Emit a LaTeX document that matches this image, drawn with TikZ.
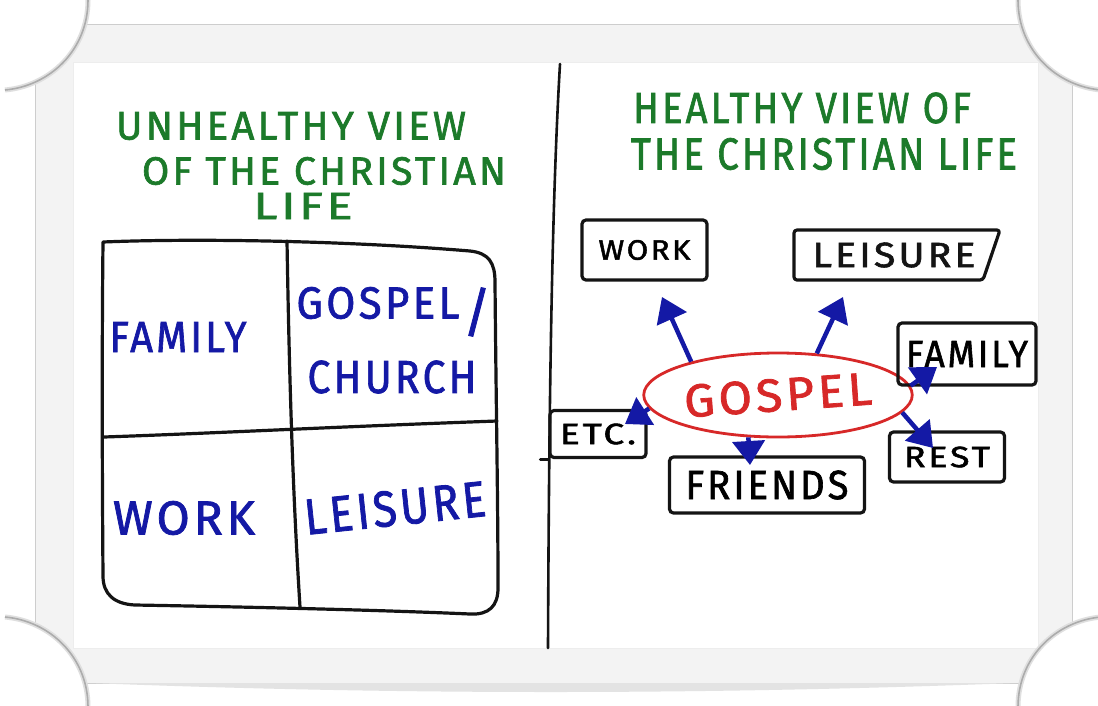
\documentclass[tikz,border=0pt]{standalone}
\usepackage{fontspec}
\usepackage{graphicx}
\usetikzlibrary{arrows.meta,shapes.geometric}
\newfontfamily\hand{Fira Sans}[LetterSpace=8, FakeBold=1.6]
\definecolor{inkgreen}{RGB}{28,122,42}
\definecolor{inkblue}{RGB}{20,25,165}
\definecolor{inkred}{RGB}{215,40,40}
\definecolor{inkblack}{RGB}{20,20,20}
\definecolor{framegray}{RGB}{243,243,243}
\definecolor{edgegray}{RGB}{205,205,205}
\newcommand{\fittext}[3]{\resizebox*{#1pt}{#2pt}{\hand #3}}
\begin{document}
\begin{tikzpicture}[x=1pt,y=-1pt,
  lbl/.style={inner sep=0pt, outer sep=0pt},
  ttl/.style={lbl, text=inkgreen},
  qtxt/.style={lbl, text=inkblue},
  bx/.style={draw=inkblack, line width=3.2pt, rounded corners=4pt, inner sep=0pt, rectangle},
  arr/.style={draw=inkblue, line width=4.5pt, -{Triangle[width=32pt,length=24pt]}},
  ink/.style={draw=inkblack, line width=3.2pt, line cap=round, line join=round},
  curlsoft/.style={draw=gray!25, line width=5pt},
  curlline/.style={draw=gray!65, line width=1.6pt},
]
\fill[white] (0,0) rectangle (1098,705);
\useasboundingbox (0,0) rectangle (1098,705);
% frame
\fill[framegray] (35,24) rectangle (1072,683);
\draw[edgegray, line width=0.8pt] (35,24) rectangle (1072,683);
% corner bites
\fill[white] (0,0) -- (0,90) -- (5,90) .. controls (50,86) and (88,50) .. (88,0) -- cycle;
\fill[white] (1098,0) -- (1098,90) -- (1101,90) .. controls (1056,86) and (1018,50) .. (1018,0) -- cycle;
\fill[white] (0,705) -- (0,617) -- (5,617) .. controls (50,621) and (88,657) .. (88,707) -- cycle;
\fill[white] (1098,705) -- (1098,617) -- (1101,617) .. controls (1056,621) and (1018,657) .. (1018,707) -- cycle;
% bottom shadow
\fill[gray!22] (90,683) .. controls (400,695) and (700,695) .. (1016,683) -- cycle;
% inner white page
\fill[white] (73,62) rectangle (1038,648);
\draw[gray!14, line width=0.6pt] (73,62) rectangle (1038,648);
% curl shadows
\foreach \s in {curlsoft,curlline}{
  \draw[\s] (5,90) .. controls (50,86) and (88,50) .. (88,0);
  \draw[\s] (1101,90) .. controls (1056,86) and (1018,50) .. (1018,0);
  \draw[\s] (5,617) .. controls (50,621) and (88,657) .. (88,707);
  \draw[\s] (1101,617) .. controls (1056,621) and (1018,657) .. (1018,707);
}
% main divider
\draw[ink, line width=2.6pt] (560,64) .. controls (552,200) and (549,400) .. (548,648);
% titles
\node[ttl] (t1) at (291,126) {\fittext{350}{28}{UNHEALTHY VIEW}};
\node[ttl] (t2) at (324,171) {\fittext{364}{28}{OF THE CHRISTIAN}};
\node[ttl] (t3) at (303,206) {\fittext{99}{26}{LIFE}};
\node[ttl] (t4) at (802,108) {\fittext{338}{31}{HEALTHY VIEW OF}};
\node[ttl] (t5) at (824,154) {\fittext{386}{32}{THE CHRISTIAN LIFE}};
% left quadrant grid
\draw[ink] (103,242) .. controls (200,238) and (350,241) .. (470,251)
  .. controls (489,253) and (495,263) .. (495,282)
  .. controls (496,400) and (498,500) .. (498,588)
  .. controls (498,606) and (489,615) .. (470,614)
  .. controls (380,610) and (250,607) .. (135,605)
  .. controls (114,604) and (103,594) .. (103,576)
  .. controls (102,450) and (102,330) .. (103,242);
\draw[ink] (287,241) .. controls (289,360) and (292,480) .. (300,607);
\draw[ink] (104,437) .. controls (220,433) and (330,427) .. (497,421);
\node[qtxt] (qf) at (178,337) {\fittext{137}{30}{FAMILY}};
\node[qtxt] (qg) at (378,303) {\fittext{163}{32}{GOSPEL}};
\node[qtxt] (qs) at (477,312) {\fittext{28}{49}{/}};
\node[qtxt] (qc) at (392,377) {\fittext{169}{33}{CHURCH}};
\node[qtxt] (qw) at (184,518) {\fittext{142}{34}{WORK}};
\node[qtxt, rotate=6] (ql) at (395,508) {\fittext{182}{36}{LEISURE}};
% right diagram
\node[ellipse, draw=inkred, line width=2.8pt, minimum width=254pt, minimum height=84pt, inner sep=0pt, text=inkred] (gos) at (778,395) {\rotatebox{4}{\fittext{188}{33}{GOSPEL}}};
\node[bx, minimum width=125pt, minimum height=60pt] (work) at (644.5,250) {\fittext{92}{20}{WORK}};
\node[lbl, minimum width=200pt, minimum height=50pt, text=inkblack] (leis) at (894,255) {\fittext{163}{25}{LEISURE}};
\draw[ink, rounded corners=3pt] (leis.north west) -- ([xshift=6pt]leis.north east) -- ([xshift=-11pt]leis.south east) -- (leis.south west) -- cycle;
\node[bx, minimum width=138pt, minimum height=62pt] (fam) at (967,354) {\fittext{122}{26}{FAMILY}};
\node[bx, minimum width=115pt, minimum height=50pt] (rest) at (947,457) {\fittext{86}{21}{REST}};
\node[bx, minimum width=195pt, minimum height=56pt] (fri) at (767,485) {\fittext{163}{29}{FRIENDS}};
\node[bx, minimum width=96pt, minimum height=47pt] (etc) at (598,434) {\fittext{76}{21}{ETC.}};
\draw[ink] (etc.south west) -- ++(-8,0);
% arrow tips
\coordinate (tw) at (662,297);
\coordinate (tl) at (843,297);
\coordinate (tf) at (937,367);
\coordinate (tr) at (933,448);
\coordinate (tfr) at (750,465);
\coordinate (te) at (625,424);
\draw[arr] (gos.159) -- (tw);
\draw[arr] (gos.47) -- (tl);
\draw[arr] (gos.4) -- (tf);
\draw[arr] (gos.-8) -- (tr);
\draw[arr] (gos.235) -- (tfr);
\draw[arr] (gos.186) -- (te);
\end{tikzpicture}
\end{document}
